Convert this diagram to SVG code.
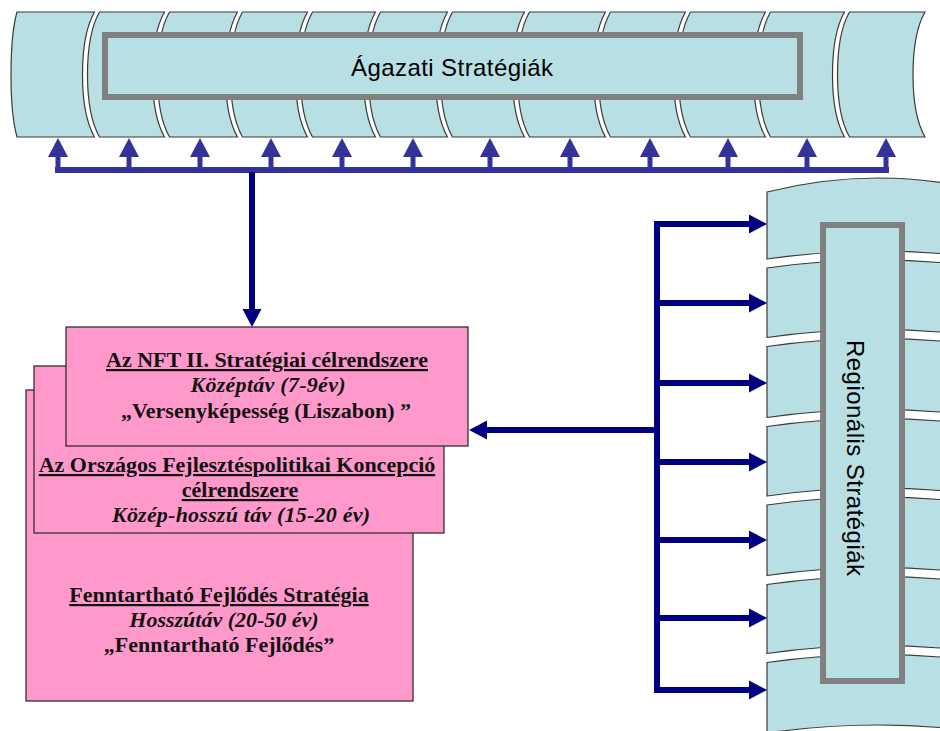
<svg xmlns="http://www.w3.org/2000/svg" width="940" height="731" viewBox="0 0 940 731">
<defs>
<style>
.seg{fill:#B8DFE3;stroke:#3a3a3a;stroke-width:1.2}
.lbl{fill:#B8DFE3;stroke:#808080;stroke-width:6}
.ltxt{font-family:"Liberation Sans",Arial,sans-serif;font-size:24px;fill:#000}
.pink{fill:#FF99CC;stroke:#222;stroke-width:1.2}
.t{font-family:"Liberation Serif","Times New Roman",serif;font-size:22px;font-weight:bold;fill:#111;text-anchor:middle}
.u{text-decoration:underline}
.i{font-style:italic}
.cv{fill:none;stroke:#333399;stroke-width:6}
.cs{fill:none;stroke:#333399;stroke-width:5}
.cn{fill:none;stroke:#000080;stroke-width:6}
</style>
<marker id="hv" markerUnits="userSpaceOnUse" markerWidth="20" markerHeight="22" refX="0" refY="11" orient="auto"><path d="M0,1 L19,11 L0,21 z" fill="#333399"/></marker>
<marker id="hn" markerUnits="userSpaceOnUse" markerWidth="20" markerHeight="22" refX="0" refY="11" orient="auto"><path d="M0,1.5 L18,11 L0,20.5 z" fill="#000080"/></marker>
</defs>
<rect width="940" height="731" fill="#fff"/>

<g id="agazati">
<path class="seg" d="M17,12 H94.5 C78.5,40 78.5,109 94.5,137 H17 C9,109 9,40 17,12 Z"/>
<path class="seg" d="M99.5,12 H164.5 C148.5,40 148.5,109 164.5,137 H99.5 C83.5,109 83.5,40 99.5,12 Z"/>
<path class="seg" d="M169.5,12 H237.5 C221.5,40 221.5,109 237.5,137 H169.5 C153.5,109 153.5,40 169.5,12 Z"/>
<path class="seg" d="M242.5,12 H307.5 C291.5,40 291.5,109 307.5,137 H242.5 C226.5,109 226.5,40 242.5,12 Z"/>
<path class="seg" d="M312.5,12 H375.5 C359.5,40 359.5,109 375.5,137 H312.5 C296.5,109 296.5,40 312.5,12 Z"/>
<path class="seg" d="M380.5,12 H447.5 C431.5,40 431.5,109 447.5,137 H380.5 C364.5,109 364.5,40 380.5,12 Z"/>
<path class="seg" d="M452.5,12 H524.5 C508.5,40 508.5,109 524.5,137 H452.5 C436.5,109 436.5,40 452.5,12 Z"/>
<path class="seg" d="M529.5,12 H605.5 C589.5,40 589.5,109 605.5,137 H529.5 C513.5,109 513.5,40 529.5,12 Z"/>
<path class="seg" d="M610.5,12 H685.5 C669.5,40 669.5,109 685.5,137 H610.5 C594.5,109 594.5,40 610.5,12 Z"/>
<path class="seg" d="M690.5,12 H765.5 C749.5,40 749.5,109 765.5,137 H690.5 C674.5,109 674.5,40 690.5,12 Z"/>
<path class="seg" d="M770.5,12 H844.5 C828.5,40 828.5,109 844.5,137 H770.5 C754.5,109 754.5,40 770.5,12 Z"/>
<path class="seg" d="M849.5,12 H925 C909,40 909,109 925,137 H849.5 C833.5,109 833.5,40 849.5,12 Z"/>
<rect class="lbl" x="105" y="35" width="695" height="62"/>
<text class="ltxt" x="452" y="76" text-anchor="middle" textLength="202" lengthAdjust="spacing">Ágazati Stratégiák</text>
</g>

<g id="regionalis">
<path class="seg" d="M767,192 Q878,164 989,192 V259 Q878,243 767,259 Z"/>
<path class="seg" d="M767,268 Q878,252 989,268 V337.5 Q878,321.5 767,337.5 Z"/>
<path class="seg" d="M767,346.5 Q878,330.5 989,346.5 V417.5 Q878,401.5 767,417.5 Z"/>
<path class="seg" d="M767,426.5 Q878,410.5 989,426.5 V496 Q878,480 767,496 Z"/>
<path class="seg" d="M767,505 Q878,489 989,505 V575.5 Q878,559.5 767,575.5 Z"/>
<path class="seg" d="M767,584.5 Q878,568.5 989,584.5 V653.5 Q878,637.5 767,653.5 Z"/>
<path class="seg" d="M767,662.5 Q878,646.5 989,662.5 V733 Q878,717 767,733 Z"/>
<rect class="lbl" x="823" y="225" width="79" height="456"/>
<text class="ltxt" transform="translate(847,458) rotate(90)" x="0" y="0" text-anchor="middle" textLength="236" lengthAdjust="spacing">Regionális Stratégiák</text>
</g>

<g id="connectors">
<path class="cv" d="M55,170 H889"/>
<path class="cs" d="M58,170 V157" marker-end="url(#hv)"/>
<path class="cs" d="M129,170 V157" marker-end="url(#hv)"/>
<path class="cs" d="M200,170 V157" marker-end="url(#hv)"/>
<path class="cs" d="M271,170 V157" marker-end="url(#hv)"/>
<path class="cs" d="M342,170 V157" marker-end="url(#hv)"/>
<path class="cs" d="M413,170 V157" marker-end="url(#hv)"/>
<path class="cs" d="M490,170 V157" marker-end="url(#hv)"/>
<path class="cs" d="M570,170 V157" marker-end="url(#hv)"/>
<path class="cs" d="M650,170 V157" marker-end="url(#hv)"/>
<path class="cs" d="M728,170 V157" marker-end="url(#hv)"/>
<path class="cs" d="M807,170 V157" marker-end="url(#hv)"/>
<path class="cs" d="M886,170 V157" marker-end="url(#hv)"/>
<path class="cn" d="M252,172 V309" marker-end="url(#hn)"/>
<path class="cn" d="M657,221 V693"/>
<path class="cn" d="M654,224 H749" marker-end="url(#hn)"/>
<path class="cn" d="M654,303 H749" marker-end="url(#hn)"/>
<path class="cn" d="M654,383 H749" marker-end="url(#hn)"/>
<path class="cn" d="M654,462 H749" marker-end="url(#hn)"/>
<path class="cn" d="M654,540 H749" marker-end="url(#hn)"/>
<path class="cn" d="M654,618 H749" marker-end="url(#hn)"/>
<path class="cn" d="M654,690 H749" marker-end="url(#hn)"/>
<path class="cn" d="M660,430 H487" marker-end="url(#hn)"/>
</g>

<g id="ffs">
<rect class="pink" x="26" y="390" width="387" height="311"/>
<text class="t u" x="219" y="602">Fenntartható Fejlődés Stratégia</text>
<text class="t i" x="224" y="627">Hosszútáv (20-50 év)</text>
<text class="t" x="219" y="652">„Fenntartható Fejlődés”</text>
</g>

<g id="ofk">
<rect class="pink" x="34" y="366" width="410" height="167"/>
<text class="t u" x="237" y="472">Az Országos Fejlesztéspolitikai Koncepció</text>
<text class="t u" x="240" y="497">célrendszere</text>
<text class="t i" x="241" y="522" textLength="258" lengthAdjust="spacing">Közép-hosszú táv (15-20 év)</text>
</g>

<g id="nft">
<rect class="pink" x="66" y="327" width="402" height="119"/>
<text class="t u" x="267" y="367">Az NFT II. Stratégiai célrendszere</text>
<text class="t i" x="268" y="392" textLength="155" lengthAdjust="spacing">Középtáv (7-9év)</text>
<text class="t" x="266" y="418">„Versenyképesség (Liszabon) ”</text>
</g>
</svg>
